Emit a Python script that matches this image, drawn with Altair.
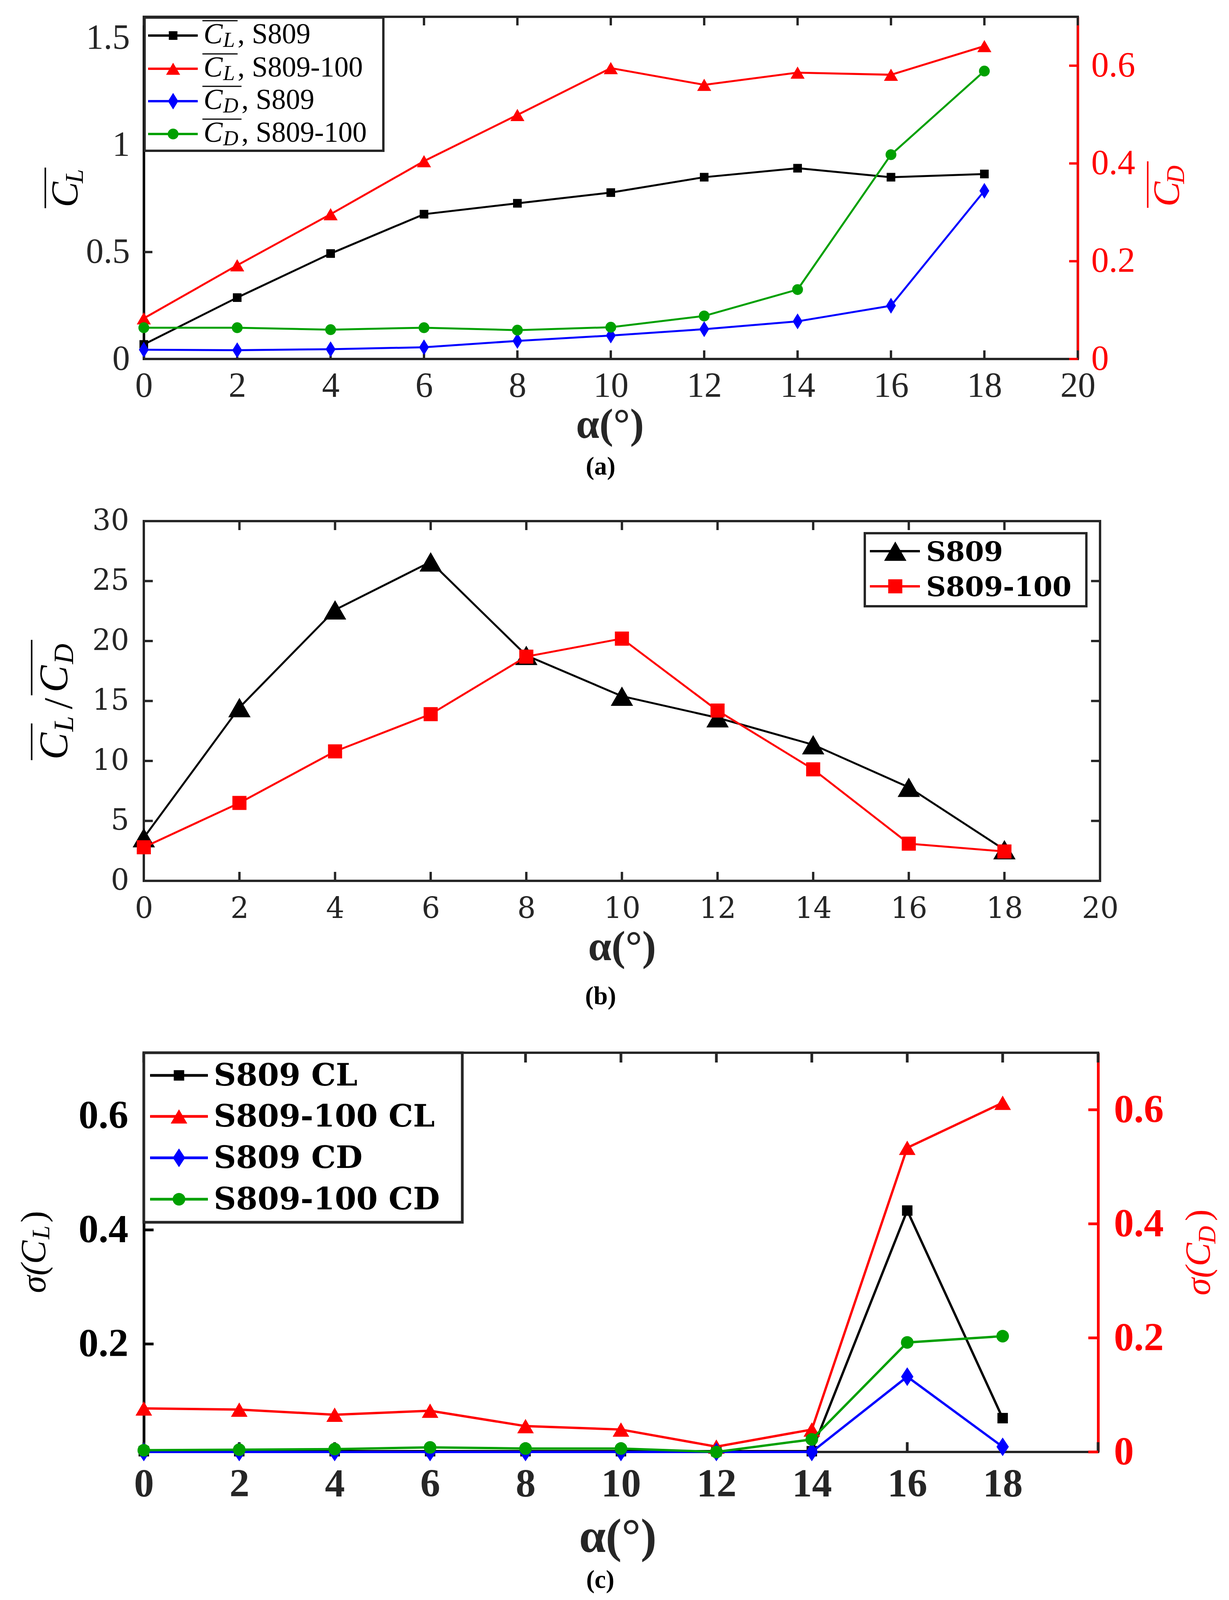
import altair as alt
import pandas as pd

# ---------------- data ----------------
alpha = [0, 2, 4, 6, 8, 10, 12, 14, 16, 18]

# (a) mean lift / drag
a_cl_s809 = [0.068, 0.287, 0.493, 0.677, 0.728, 0.778, 0.850, 0.892, 0.850, 0.865]
a_cl_s809_100 = [0.190, 0.438, 0.677, 0.925, 1.141, 1.360, 1.282, 1.339, 1.329, 1.463]
a_cd_s809 = [0.019, 0.018, 0.020, 0.024, 0.037, 0.048, 0.061, 0.077, 0.109, 0.344]
a_cd_s809_100 = [0.064, 0.064, 0.060, 0.064, 0.059, 0.065, 0.088, 0.142, 0.418, 0.589]

# (b) lift-to-drag ratio
b_ld_s809 = [3.6, 14.45, 22.6, 26.6, 18.8, 15.4, 13.6, 11.35, 7.8, 2.6]
b_ld_s809_100 = [2.8, 6.5, 10.8, 13.9, 18.7, 20.2, 14.2, 9.3, 3.1, 2.45]

# (c) standard deviations
c_scl_s809 = [0.012, 0.012, 0.012, 0.012, 0.012, 0.012, 0.012, 0.012, 0.434, 0.070]
c_scl_s809_100 = [0.087, 0.085, 0.076, 0.083, 0.056, 0.050, 0.020, 0.050, 0.544, 0.623]
c_scd_s809 = [0.000, 0.000, 0.000, 0.000, 0.000, 0.000, 0.000, 0.000, 0.132, 0.009]
c_scd_s809_100 = [0.003, 0.004, 0.005, 0.008, 0.006, 0.006, 0.000, 0.022, 0.192, 0.203]

# ticks / labels
x_ticks = [0, 2, 4, 6, 8, 10, 12, 14, 16, 18, 20]
c_x_labels = [0, 2, 4, 6, 8, 10, 12, 14, 16, 18]
a_left_ticks = [0, 0.5, 1, 1.5]
a_right_ticks = [0, 0.2, 0.4, 0.6]
b_ticks = [0, 5, 10, 15, 20, 25, 30]
c_left_ticks = [0.2, 0.4, 0.6]
c_right_ticks = [0, 0.2, 0.4, 0.6]

a_names = ["S809", "S809-100", "S809", "S809-100"]
b_names = ["S809", "S809-100"]
c_names = ["S809 CL", "S809-100 CL", "S809 CD", "S809-100 CD"]
x_title = "α(°)"

# ---------------- styles ----------------
BLACK = "#000000"
RED = "#ff0000"
BLUE = "#0000ff"
GREEN = "#00a000"
AX = "#262626"
SERIF = "Liberation Serif"
DSERIF = "DejaVu Serif"
DIAM_A = "M0,-1L0.62,0L0,1L-0.62,0Z"
DIAM_C = "M0,-1L0.66,0L0,1L-0.66,0Z"


def penc():
    return dict(x=alt.X("px:Q", scale=None, axis=None), y=alt.Y("py:Q", scale=None, axis=None))


def texts(rows, **kw):
    df = pd.DataFrame(rows, columns=["px", "py", "t"])
    return alt.Chart(df).mark_text(**kw).encode(text="t:N", **penc())


def rtext(x, y, t, size, color, italic=True):
    kw = dict(font=SERIF, fontSize=size, angle=270, align="center", baseline="alphabetic", color=color)
    if italic:
        kw["fontStyle"] = "italic"
    return texts([(x, y, t)], **kw)


def segs(rows, **kw):
    df = pd.DataFrame(rows, columns=["px", "py", "px2", "py2"])
    return alt.Chart(df).mark_rule(**kw).encode(x2="px2:Q", y2="py2:Q", **penc())


def dots(rows, **kw):
    df = pd.DataFrame(rows, columns=["px", "py"])
    return alt.Chart(df).mark_point(filled=True, opacity=1, strokeWidth=0, **kw).encode(**penc())


def box(x1, y1, x2, y2, sw):
    df = pd.DataFrame([[x1, y1, x2, y2]], columns=["px", "py", "px2", "py2"])
    return alt.Chart(df).mark_rect(fill="white", stroke=AX, strokeWidth=sw).encode(
        x2="px2:Q", y2="py2:Q", **penc())


def frame_anchor(y_top, y_bot):
    # invisible (white) guide that fixes each panel's layout bounds
    return segs([(-356, y_top, -356, y_bot)], color="white", strokeWidth=1)


def series(ys, xs, xax, yscale, yax, color, shape, size, sw):
    df = pd.DataFrame({"alpha": alpha, "v": ys})
    enc = dict(x=alt.X("alpha:Q", scale=xs, axis=xax), y=alt.Y("v:Q", scale=yscale, axis=yax))
    line = alt.Chart(df).mark_line(color=color, strokeWidth=sw, clip=False).encode(**enc)
    pts = alt.Chart(df).mark_point(shape=shape, size=size, filled=True, color=color, opacity=1,
                                   strokeWidth=0, clip=False).encode(**enc)
    return [line, pts]


def xtick_layers(xs, H, tl, sw, axis):
    df = pd.DataFrame({"t": x_ticks})
    b = alt.Chart(df).mark_rule(color=AX, strokeWidth=sw).encode(
        x=alt.X("t:Q", scale=xs, axis=axis), y=alt.value(H), y2=alt.value(H - tl))
    t = alt.Chart(df).mark_rule(color=AX, strokeWidth=sw).encode(
        x=alt.X("t:Q", scale=xs, axis=axis), y=alt.value(0), y2=alt.value(tl))
    return [b, t]


def ytick_layer(vals, ys, x0, x1, color, sw, axis):
    df = pd.DataFrame({"t": vals})
    return alt.Chart(df).mark_rule(color=color, strokeWidth=sw).encode(
        y=alt.Y("t:Q", scale=ys, axis=axis), x=alt.value(x0), x2=alt.value(x1))


def xaxis(values, font, size, weight, pad):
    return alt.Axis(values=values, orient="bottom", ticks=False, domain=False, grid=False, title=None,
                    labelFont=font, labelFontSize=size, labelFontWeight=weight, labelColor=AX,
                    labelPadding=pad, labelBaseline="alphabetic", labelAlign="center",
                    labelFlush=False, labelOverlap=False, labelBound=False, format="d")


def yaxis(values, orient, font, size, weight, color, pad, domain, dcolor, dw, fmt):
    kw = dict(values=values, orient=orient, ticks=False, grid=False, title=None,
              labelFont=font, labelFontSize=size, labelFontWeight=weight, labelColor=color,
              labelPadding=pad, labelBaseline="middle", labelFlush=False, labelOverlap=False,
              labelBound=False, format=fmt, domain=domain)
    if domain:
        kw.update(domainColor=dcolor, domainWidth=dw)
    return alt.Axis(**kw)


# ================= panel (a) =================
Wa, Ha = 2390, 876
xs_a = alt.Scale(domain=[0, 20], nice=False, zero=False)
ya_l = alt.Scale(domain=[0, 1.6], nice=False, zero=False)
ya_r = alt.Scale(domain=[0, 0.7], nice=False, zero=False)
SW_A = 6
TL_A = 22
xax_a = xaxis(x_ticks, SERIF, 90, "normal", 96)
yax_al = yaxis(a_left_ticks, "left", SERIF, 90, "normal", AX, 36, True, BLACK, SW_A, "~g")
yax_ar = yaxis(a_right_ticks, "right", SERIF, 90, "normal", RED, 34, True, RED, SW_A, "~g")

left_a = alt.layer(
    ytick_layer(a_left_ticks, ya_l, 0, TL_A, AX, SW_A, yax_al),
    *xtick_layers(xs_a, Ha, TL_A, SW_A, xax_a),
    *series(a_cl_s809, xs_a, xax_a, ya_l, yax_al, BLACK, "square", 490, 5),
    *series(a_cl_s809_100, xs_a, xax_a, ya_l, yax_al, RED, "triangle-up", 1300, 5),
)
right_a = alt.layer(
    ytick_layer(a_right_ticks, ya_r, Wa, Wa - TL_A, RED, SW_A, yax_ar),
    *series(a_cd_s809, xs_a, xax_a, ya_r, yax_ar, BLUE, DIAM_A, 1650, 5),
    *series(a_cd_s809_100, xs_a, xax_a, ya_r, yax_ar, GREEN, "circle", 765, 5),
)

leg_a_rows = [(48, BLACK, "square", 490, "L", a_names[0]),
              (133, RED, "triangle-up", 1300, "L", a_names[1]),
              (216, BLUE, DIAM_A, 1800, "D", a_names[2]),
              (300, GREEN, "circle", 765, "D", a_names[3])]
leg_a = [box(2, 2, 613, 343, SW_A)]
for yc, col, shp, sz, sub, name in leg_a_rows:
    wide = sub == "D"
    leg_a.append(segs([(11, yc, 138, yc)], color=col, strokeWidth=6))
    leg_a.append(dots([(75, yc)], shape=shp, size=sz, color=col))
    leg_a.append(segs([(150, yc - 38, 250 if wide else 240, yc - 38)], color=BLACK, strokeWidth=3))
    leg_a.append(texts([(153, yc + 20, "C")], font=SERIF, fontSize=73, fontStyle="italic",
                       align="left", baseline="alphabetic", color=BLACK))
    leg_a.append(texts([(203, yc + 29, sub)], font=SERIF, fontSize=54, fontStyle="italic",
                       align="left", baseline="alphabetic", color=BLACK))
    leg_a.append(texts([(250 if wide else 240, yc + 20, ", " + name)], font=SERIF, fontSize=73,
                       align="left", baseline="alphabetic", color=BLACK))

over_a = alt.layer(
    frame_anchor(-31, 1200),
    *leg_a,
    segs([(-252, 386, -252, 490)], color=BLACK, strokeWidth=4),
    rtext(-170, 455, "C", 98, BLACK),
    rtext(-156, 408, "L", 65, BLACK),
    segs([(2569, 370, 2569, 489)], color=RED, strokeWidth=4),
    rtext(2649, 454, "C", 96, RED),
    rtext(2662, 404, "D", 65, RED),
    texts([(1193, 1078, x_title)], font=SERIF, fontSize=107, fontWeight="bold",
          align="center", baseline="alphabetic", color=AX),
    texts([(1169, 1172, "(a)")], font=SERIF, fontSize=65, fontWeight="bold",
          align="center", baseline="alphabetic", color=BLACK),
)

panel_a = alt.layer(left_a, right_a, over_a).resolve_scale(y="independent").properties(
    width=Wa, height=Ha)

# ================= panel (b) =================
Wb, Hb = 2447, 921
xs_b = alt.Scale(domain=[0, 20], nice=False, zero=False)
yb = alt.Scale(domain=[0, 30], nice=False, zero=False)
SW_B = 6
TL_B = 23
xax_b = xaxis(x_ticks, DSERIF, 74, "normal", 94)
yax_b = yaxis(b_ticks, "left", DSERIF, 74, "normal", AX, 38, False, AX, SW_B, "d")

main_b = alt.layer(
    ytick_layer(b_ticks, yb, 0, TL_B, AX, SW_B, yax_b),
    ytick_layer(b_ticks, yb, Wb, Wb - TL_B, AX, SW_B, yax_b),
    *xtick_layers(xs_b, Hb, TL_B, SW_B, xax_b),
    *series(b_ld_s809, xs_b, xax_b, yb, yax_b, BLACK, "triangle-up", 3270, 5),
    *series(b_ld_s809_100, xs_b, xax_b, yb, yax_b, RED, "square", 1300, 5),
)

leg_b = [box(1845, 31, 2412, 218, SW_B)]
for yc, col, shp, sz, name in [(77, BLACK, "triangle-up", 3270, b_names[0]),
                               (167, RED, "square", 1300, b_names[1])]:
    leg_b.append(segs([(1858, yc, 1986, yc)], color=col, strokeWidth=6))
    leg_b.append(dots([(1923, yc)], shape=shp, size=sz, color=col))
    leg_b.append(texts([(2002, yc + 25, name)], font=DSERIF, fontSize=70, fontWeight="bold",
                       align="left", baseline="alphabetic", color=BLACK))

over_b = alt.layer(
    frame_anchor(-63.3, 1265),
    *leg_b,
    segs([(-287, 518, -287, 612)], color=BLACK, strokeWidth=4),
    rtext(-196, 576, "C", 104, BLACK),
    rtext(-181, 519, "L", 72, BLACK),
    rtext(-184, 467, "/", 104, BLACK, italic=False),
    segs([(-287, 304, -287, 446)], color=BLACK, strokeWidth=4),
    rtext(-196, 404, "C", 104, BLACK),
    rtext(-181, 340, "D", 72, BLACK),
    texts([(1224, 1124, x_title)], font=SERIF, fontSize=107, fontWeight="bold",
          align="center", baseline="alphabetic", color=AX),
    texts([(1169, 1237, "(b)")], font=SERIF, fontSize=65, fontWeight="bold",
          align="center", baseline="alphabetic", color=BLACK),
)

panel_b = alt.layer(main_b, over_b).properties(width=Wb, height=Hb)

# ================= panel (c) =================
Wc, Hc = 2442, 1022
xs_c = alt.Scale(domain=[0, 20], nice=False, zero=False)
yc_l = alt.Scale(domain=[0.0107, 0.7107], nice=False, zero=False)
yc_r = alt.Scale(domain=[0, 0.7], nice=False, zero=False)
SW_C = 7
TL_C = 25
xax_c = xaxis(c_x_labels, SERIF, 102, "bold", 113)
yax_cl = yaxis(c_left_ticks, "left", SERIF, 102, "bold", BLACK, 40, True, BLACK, SW_C, "~g")
yax_cr = yaxis(c_right_ticks, "right", SERIF, 102, "bold", RED, 40, True, RED, SW_C, "~g")

left_c = alt.layer(
    ytick_layer(c_left_ticks, yc_l, 0, TL_C, BLACK, SW_C, yax_cl),
    *xtick_layers(xs_c, Hc, TL_C, SW_C, xax_c),
    *series(c_scl_s809, xs_c, xax_c, yc_l, yax_cl, BLACK, "square", 715, 6),
    *series(c_scl_s809_100, xs_c, xax_c, yc_l, yax_cl, RED, "triangle-up", 1800, 6),
)
right_c = alt.layer(
    ytick_layer(c_right_ticks, yc_r, Wc, Wc - TL_C, RED, SW_C, yax_cr),
    *series(c_scd_s809, xs_c, xax_c, yc_r, yax_cr, BLUE, DIAM_C, 2300, 6),
    *series(c_scd_s809_100, xs_c, xax_c, yc_r, yax_cr, GREEN, "circle", 1040, 6),
)

leg_c = [box(0, 0, 815, 434, SW_C)]
for yc, col, shp, sz, name in [(58, BLACK, "square", 715, c_names[0]),
                               (163, RED, "triangle-up", 1800, c_names[1]),
                               (269, BLUE, DIAM_C, 2300, c_names[2]),
                               (375, GREEN, "circle", 1040, c_names[3])]:
    leg_c.append(segs([(16, yc, 164, yc)], color=col, strokeWidth=7))
    leg_c.append(dots([(90, yc)], shape=shp, size=sz, color=col))
    leg_c.append(texts([(179, yc + 26, name)], font=DSERIF, fontSize=79, fontWeight="bold",
                       align="left", baseline="alphabetic", color=BLACK))

over_c = alt.layer(
    frame_anchor(-68.2, 1390),
    *leg_c,
    rtext(-252, 548, "σ(C", 90, BLACK),
    rtext(-242, 460, "L", 63, BLACK),
    rtext(-252, 420, ")", 90, BLACK, italic=False),
    rtext(2728, 554, "σ(C", 90, RED),
    rtext(2742, 466, "D", 63, RED),
    rtext(2728, 416, ")", 90, RED, italic=False),
    texts([(1213, 1278, x_title)], font=SERIF, fontSize=122, fontWeight="bold",
          align="center", baseline="alphabetic", color=AX),
    texts([(1168, 1370, "(c)")], font=SERIF, fontSize=65, fontWeight="bold",
          align="center", baseline="alphabetic", color=BLACK),
)

panel_c = alt.layer(left_c, right_c, over_c).resolve_scale(y="independent").properties(
    width=Wc, height=Hc)

chart = alt.vconcat(panel_a, panel_b, panel_c, spacing=20).properties(
    padding=0).configure_view(stroke=AX, strokeWidth=6)

chart.save("out.html", embed_options={"renderer": "svg", "actions": False})
